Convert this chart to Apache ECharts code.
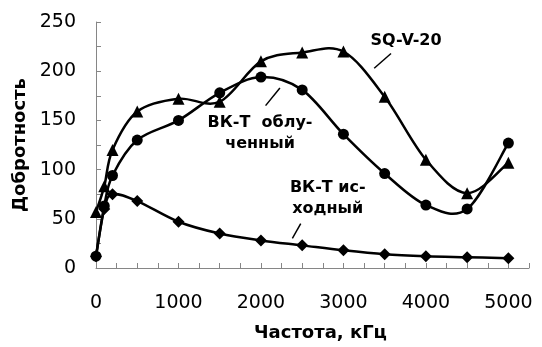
<!DOCTYPE html>
<html><head><meta charset="utf-8">
<script src="https://cdn.jsdelivr.net/npm/echarts/dist/echarts.min.js"></script>
<style>html,body{margin:0;padding:0;background:#fff}#c{width:542px;height:347px}</style>
</head><body><div id="c"></div>
<script>
const freq = [0,100,200,500,1000,1500,2000,2500,3000,3500,4000,4500,5000];
const sqv20 = [57,83,120,159,172,169,210,219,220,174,110,76,107];
const bktIrr = [12,63,94,130,150,178,194,181,136,96,64,60,127];
const bktOrig = [12,60,75,68,47,35,28,23,18,14,12,11,10];
const xTickLabels = [0,1000,2000,3000,4000,5000];
const yTickLabels = [0,50,100,150,200,250];
const xTitle = 'Частота, кГц';
const yTitle = 'Добротность';
const notes = [
  {text:'SQ-V-20', at:[3759,231], line:[[3373,203],[3577,218]]},
  {text:'ВК-Т  облу-\nченный', at:[1989,137], line:[[2056,165],[2230,183]]},
  {text:'ВК-Т ис-\nходный', at:[2810,71], line:[[2381,30],[2482,45]]}
];
const pair = (xs, ys) => xs.map((x,i)=>[x, ys[i]]);
const chart = echarts.init(document.getElementById('c'), null, {renderer:'canvas'});
const axisGray = '#868686';
const FONT = 'DejaVu Sans';
const K = 1/6;

// smooth curve (Catmull-Rom style, like spreadsheet smoothing) drawn through library coords
function curveSeries(data){
  return {
    type:'custom', data, silent:true, z:2,
    renderItem:(params, api)=>{
      const i = params.dataIndex, n = data.length;
      if (i >= n-1) return null;
      const P = j => api.coord(data[Math.max(0, Math.min(n-1, j))]);
      const p0 = P(i-1), p1 = P(i), p2 = P(i+1), p3 = P(i+2);
      return {
        type:'bezierCurve',
        shape:{x1:p1[0], y1:p1[1], x2:p2[0], y2:p2[1],
          cpx1:p1[0]+(p2[0]-p0[0])*K, cpy1:p1[1]+(p2[1]-p0[1])*K,
          cpx2:p2[0]-(p3[0]-p1[0])*K, cpy2:p2[1]-(p3[1]-p1[1])*K},
        style:{stroke:'#000', lineWidth:2.5, fill:null, lineCap:'round'}
      };
    }
  };
}
function markerSeries(name, data, symbol, size, extra){
  return Object.assign({
    name, type:'line', data, symbol, symbolSize:size, showAllSymbol:true,
    lineStyle:{width:0, opacity:0}, itemStyle:{color:'#000'}, z:4
  }, extra||{});
}
const dOrig = pair(freq,bktOrig), dIrr = pair(freq,bktIrr), dSq = pair(freq,sqv20);
chart.setOption({
  animation:false,
  backgroundColor:'#fff',
  grid:{left:96, right:13, top:22, bottom:79},
  xAxis:{
    type:'value', min:0, max:5250, interval:250,
    name:xTitle, nameLocation:'middle', nameGap:56,
    nameTextStyle:{fontFamily:FONT, fontWeight:'bold', fontSize:18, color:'#000', padding:[0,0,0,16]},
    axisLine:{lineStyle:{color:axisGray, width:1}},
    axisTick:{inside:true, length:5, lineStyle:{color:axisGray}},
    splitLine:{show:false},
    axisLabel:{fontFamily:FONT, fontSize:19, color:'#000', margin:26,
      formatter:v=>xTickLabels.includes(v)?String(v):''}
  },
  yAxis:{
    type:'value', min:0, max:250, interval:25,
    name:yTitle, nameLocation:'middle', nameGap:66, nameRotate:90,
    nameTextStyle:{fontFamily:FONT, fontWeight:'bold', fontSize:18, color:'#000'},
    axisLine:{show:true, lineStyle:{color:axisGray, width:1}},
    axisTick:{show:true, inside:true, length:5, lineStyle:{color:axisGray}},
    splitLine:{show:false},
    axisLabel:{fontFamily:FONT, fontSize:19, color:'#000', margin:20,
      formatter:v=>yTickLabels.includes(v)?String(v):''}
  },
  series:[
    curveSeries(dOrig), curveSeries(dIrr), curveSeries(dSq),
    markerSeries('ВК-Т исходный', dOrig, 'diamond', 12),
    markerSeries('ВК-Т облученный', dIrr, 'circle', 11),
    markerSeries('SQ-V-20', dSq, 'triangle', 12, {
      markLine:{silent:true, symbol:'none', animation:false,
        lineStyle:{color:'#000', width:1.5, type:'solid', opacity:1}, label:{show:false},
        data: notes.map(n=>[{coord:n.line[0]},{coord:n.line[1]}])},
      markPoint:{silent:true, symbol:'circle', symbolSize:0, animation:false,
        label:{show:true, position:'inside', fontFamily:FONT, fontWeight:'bold', fontSize:16,
          color:'#000', lineHeight:21, align:'center', formatter:p=>p.data.name},
        data: notes.map(n=>({coord:n.at, name:n.text}))}
    })
  ]
});
</script></body></html>
